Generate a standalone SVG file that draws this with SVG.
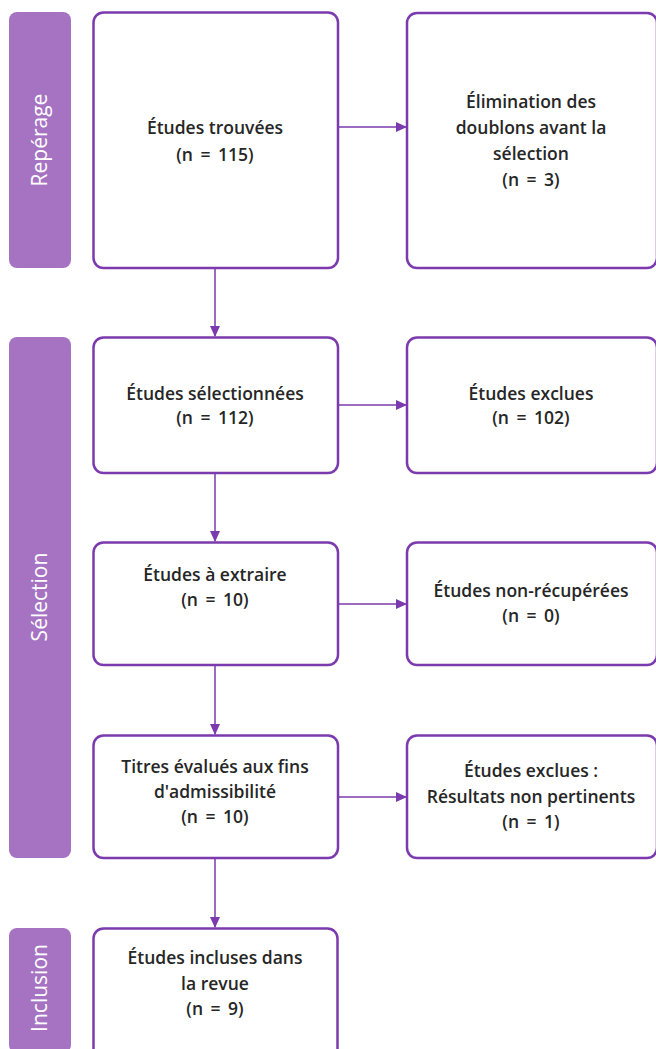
<svg xmlns="http://www.w3.org/2000/svg" width="656" height="1049" viewBox="0 0 656 1049">
<style>
.bar{fill:#a673c2;}
.box{fill:#fff;stroke:#7b3aad;stroke-width:2.5;}
.lbl{font-family:"Open Sans","Liberation Sans",sans-serif;font-size:17.5px;font-weight:600;fill:#262626;text-anchor:middle;}
.n{word-spacing:3px;}
.side{font-family:"Open Sans","Liberation Sans",sans-serif;font-size:21px;fill:#fff;text-anchor:middle;}
.con{stroke:#7b3aad;stroke-width:1.5;fill:none;}
</style>
<defs>
<marker id="ah" markerWidth="11" markerHeight="10" refX="10" refY="5" orient="auto" markerUnits="userSpaceOnUse">
<path d="M0,0 L11,5 L0,10 Z" fill="#7b3aad"/>
</marker>
</defs>
<g id="bar-reperage"><rect class="bar" x="9" y="12" width="62" height="256" rx="8"/><text class="side" transform="translate(47,140) rotate(-90)">Repérage</text></g>
<g id="bar-selection"><rect class="bar" x="9" y="337" width="62" height="521" rx="8"/><text class="side" transform="translate(47,597) rotate(-90)">Sélection</text></g>
<g id="bar-inclusion"><rect class="bar" x="9" y="928" width="62" height="125" rx="8"/><text class="side" transform="translate(47,988) rotate(-90)">Inclusion</text></g>

<g id="n1"><rect class="box" x="93.5" y="12.5" width="244.5" height="255.5" rx="10"/><text class="lbl" x="215" y="134">Études trouvées</text><text class="lbl n" x="215" y="161">(n = 115)</text></g>
<g id="n2"><rect class="box" x="407" y="13" width="250" height="255" rx="10"/><text class="lbl" x="531" y="108">Élimination des</text><text class="lbl" x="531" y="134">doublons avant la</text><text class="lbl" x="531" y="160">sélection</text><text class="lbl n" x="531" y="186">(n = 3)</text></g>
<g id="n3"><rect class="box" x="93.5" y="337.5" width="244.5" height="135.5" rx="10"/><text class="lbl" x="215" y="400">Études sélectionnées</text><text class="lbl n" x="215" y="424">(n = 112)</text></g>
<g id="n4"><rect class="box" x="407" y="337.5" width="250" height="135.5" rx="10"/><text class="lbl" x="531" y="400">Études exclues</text><text class="lbl n" x="531" y="424">(n = 102)</text></g>
<g id="n5"><rect class="box" x="93.5" y="542.5" width="244.5" height="122.5" rx="10"/><text class="lbl" x="215" y="581">Études à extraire</text><text class="lbl n" x="215" y="606">(n = 10)</text></g>
<g id="n6"><rect class="box" x="407" y="542.5" width="250" height="122.5" rx="10"/><text class="lbl" x="531" y="597">Études non-récupérées</text><text class="lbl n" x="531" y="622">(n = 0)</text></g>
<g id="n7"><rect class="box" x="93.5" y="735.5" width="244.5" height="122.5" rx="10"/><text class="lbl" x="215" y="773">Titres évalués aux fins</text><text class="lbl" x="215" y="798">d'admissibilité</text><text class="lbl n" x="215" y="823">(n = 10)</text></g>
<g id="n8"><rect class="box" x="407" y="735.5" width="250" height="122.5" rx="10"/><text class="lbl" x="531" y="777">Études exclues :</text><text class="lbl" x="531" y="803">Résultats non pertinents</text><text class="lbl n" x="531" y="828">(n = 1)</text></g>
<g id="n9"><rect class="box" x="93.5" y="928.5" width="244" height="135" rx="10"/><text class="lbl" x="215" y="964">Études incluses dans</text><text class="lbl" x="215" y="990">la revue</text><text class="lbl n" x="215" y="1015">(n = 9)</text></g>

<g id="connectors">
<line class="con" x1="339" y1="127" x2="406" y2="127" marker-end="url(#ah)"/>
<line class="con" x1="215" y1="269" x2="215" y2="336" marker-end="url(#ah)"/>
<line class="con" x1="339" y1="405" x2="406" y2="405" marker-end="url(#ah)"/>
<line class="con" x1="215" y1="474" x2="215" y2="541" marker-end="url(#ah)"/>
<line class="con" x1="339" y1="604" x2="406" y2="604" marker-end="url(#ah)"/>
<line class="con" x1="215" y1="666" x2="215" y2="734" marker-end="url(#ah)"/>
<line class="con" x1="339" y1="797" x2="406" y2="797" marker-end="url(#ah)"/>
<line class="con" x1="215" y1="859" x2="215" y2="927" marker-end="url(#ah)"/>
</g>
</svg>
